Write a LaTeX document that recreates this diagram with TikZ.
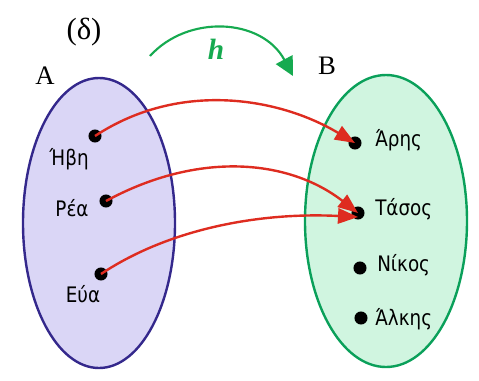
\documentclass[tikz,border=0pt]{standalone}
\usepackage{fontspec}
\setmainfont{Liberation Serif}
\newfontfamily\lblfont[FakeStretch=0.86]{DejaVu Sans}
\usetikzlibrary{arrows.meta}
\definecolor{setAfill}{RGB}{218,214,246}
\definecolor{setAdraw}{RGB}{52,40,140}
\definecolor{setBfill}{RGB}{208,245,224}
\definecolor{setBdraw}{RGB}{10,160,90}
\definecolor{arrred}{RGB}{222,44,32}
\definecolor{hgreen}{RGB}{22,170,80}
\tikzset{
  elem/.style={circle,fill=black,inner sep=0pt,minimum size=9.8pt},
  lbl/.style={font=\lblfont\fontsize{16}{18}\selectfont,inner sep=0pt},
  maparrow/.style={arrred,line width=1.8pt,-{Triangle[length=15pt,width=11.5pt]}},
}
\begin{document}
\begin{tikzpicture}[x=0.75pt,y=-0.75pt]
\useasboundingbox (0,0) rectangle (479,380);
\draw[setAdraw,fill=setAfill,line width=1.8pt] (99,223) ellipse [x radius=76,y radius=145];
\draw[setBdraw,fill=setBfill,line width=1.8pt] (386,221) ellipse [x radius=81,y radius=146];
\node[font=\fontsize{23}{25}\selectfont] (delta) at (84,32) {(δ)};
\node[font=\fontsize{20}{22}\selectfont] (A) at (45,76) {A};
\node[font=\fontsize{20}{22}\selectfont] (B) at (327,66) {B};
\node[font=\fontsize{22}{24}\selectfont\bfseries\itshape,text=hgreen] (h) at (216,49) {h};
\coordinate (hs) at (150,56);
\coordinate (he) at (293,76);
\draw[hgreen,line width=1.6pt,-{Triangle[length=14pt,width=14pt]}] (hs) .. controls (188,14) and (262,18) .. (he);
% set A
\node[elem] (e1) at (95,136) {};
\node[elem] (e2) at (106,201) {};
\node[elem] (e3) at (101,274) {};
\node[lbl] (l1) at (69,159) {Ήβη};
\node[lbl] (l2) at (72,208) {Ρέα};
\node[lbl] (l3) at (83,294) {Εύα};
% set B
\node[elem] (f1) at (355,143) {};
\node[elem] (f2) at (358,213) {};
\node[elem] (f3) at (360,268) {};
\node[elem] (f4) at (361,318) {};
\node[lbl,anchor=west] (m1) at (375,140) {Άρης};
\node[lbl,anchor=west] (m2) at (375,209) {Τάσος};
\node[lbl,anchor=west] (m3) at (377,265) {Νίκος};
\node[lbl,anchor=west] (m4) at (375,319) {Άλκης};
% arrows
\draw[maparrow] (e1.center) .. controls (180,80) and (280,98) .. (f1.center);
\draw[maparrow] (e2.center) .. controls (200,150) and (290,160) .. (f2.center);
\draw[maparrow] (e3.center) .. controls (170,228) and (262,212) .. ([yshift=-3pt]f2.center);
\end{tikzpicture}
\end{document}
